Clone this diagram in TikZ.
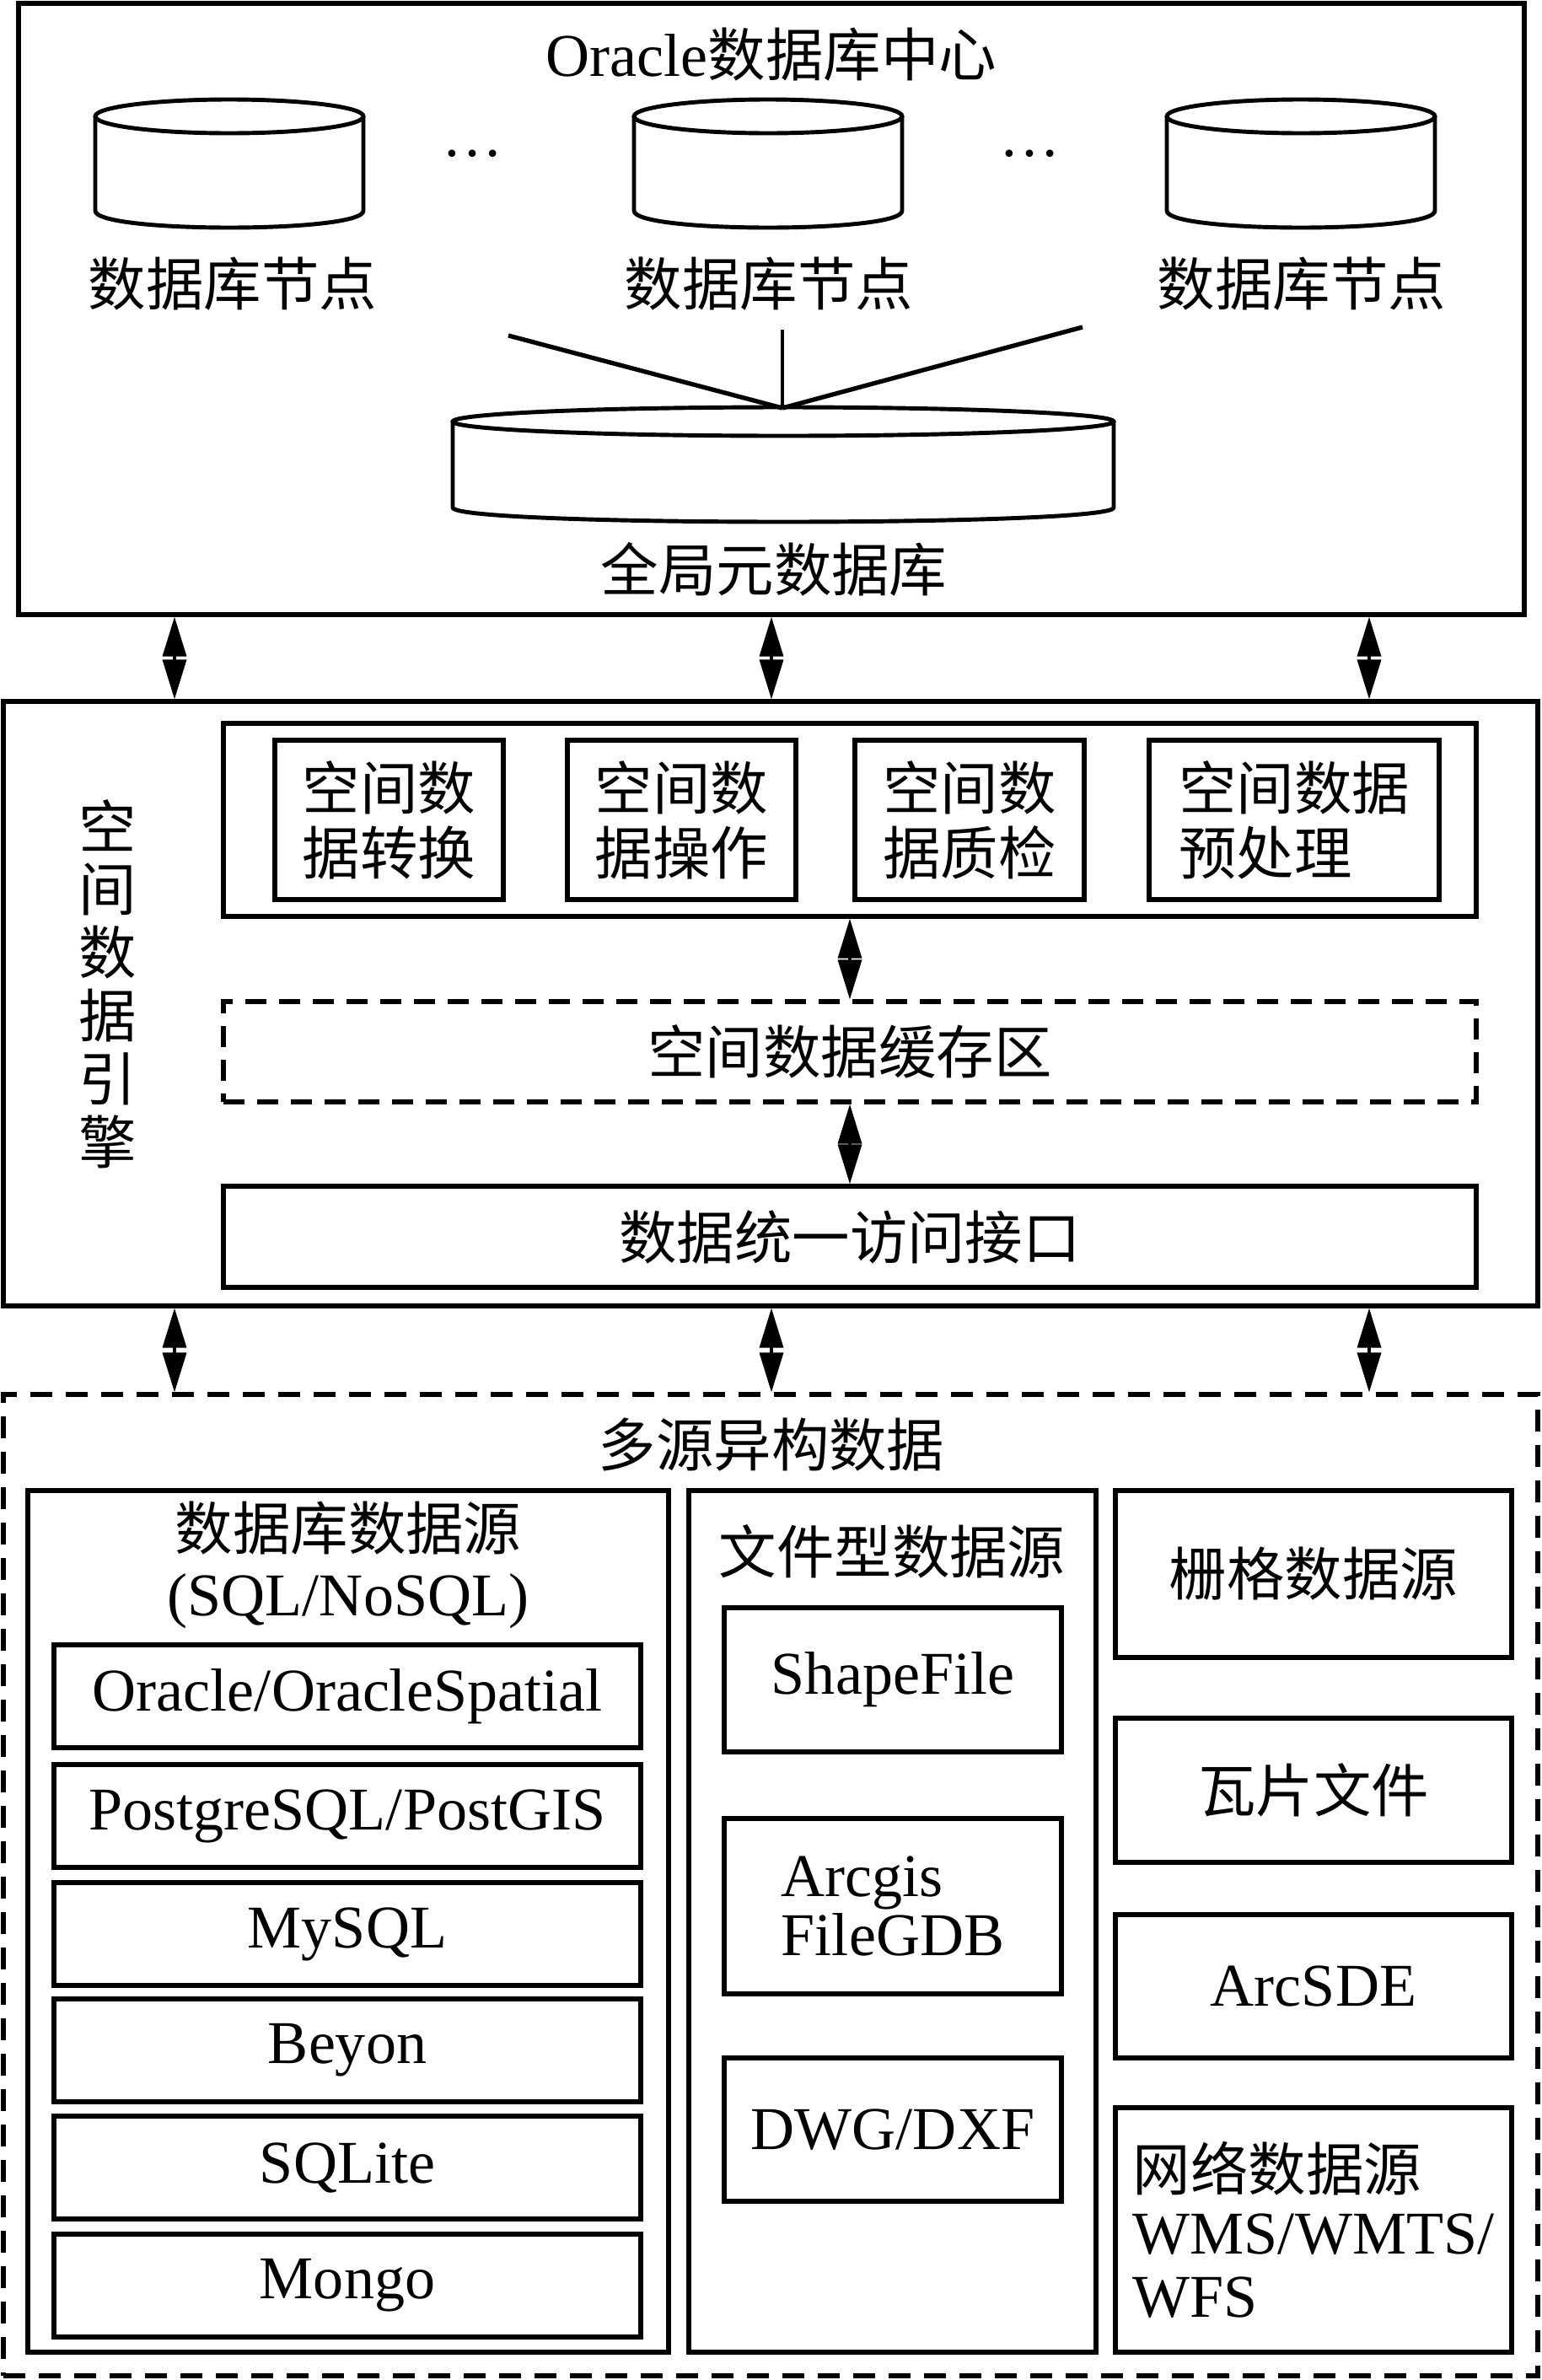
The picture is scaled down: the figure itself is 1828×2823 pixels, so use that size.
\documentclass[tikz,border=0pt]{standalone}
\usepackage{fontspec}
\setmainfont{Liberation Serif}
\newfontfamily\cjk[Scale=0.95]{Noto Sans CJK SC}
\usetikzlibrary{arrows.meta}
\newcommand{\bodysize}{\fontsize{20.5pt}{22pt}\selectfont}
% cx, top, rx, ry, body height
\newcommand{\dbdisk}[5]{%
	\draw[line width=1.4pt] (#1,#2) ellipse ({#3} and {#4});
	\draw[line width=1.4pt, line join=round]
		(#1-#3,#2) -- (#1-#3,#2+#5)
		.. controls (#1-#3,#2+#5+1.333*#4) and (#1+#3,#2+#5+1.333*#4) .. (#1+#3,#2+#5)
		-- (#1+#3,#2);
}
\begin{document}
\begin{tikzpicture}
			[
				x                       = 0.1mm,
				y                       = -0.1mm,
				font                    = \bodysize,
				box/.style              = {draw, line width=1.5pt, inner sep=0pt, align=center},
				dbox/.style             = {box, dash pattern=on 2.5mm off 1.5mm},
				zh/.style               = {font=\bodysize\cjk},
				biarrow/.style          = {{Triangle[length=4.7mm,width=2.8mm]}-{Triangle[length=4.7mm,width=2.8mm]}, line width=1pt}
			]
			\useasboundingbox (0,0) rectangle (1828,2823);
			\tikzstyle{spoke}=[line width=1.5pt]
			\node [box, minimum width=178.6mm, minimum height=72.5mm] (oraclebox) at (915,366.5) {};
			\node (oracletitle) at (915,65) {Oracle{\cjk 数据库中心}};
			\dbdisk{272}{138}{159}{20}{112}
			\dbdisk{911}{138}{159}{20}{112}
			\dbdisk{1543}{138}{159}{20}{112}
			\node [zh] (dbnode1) at (276,337) {数据库节点};
			\node [zh] (dbnode2) at (912,337) {数据库节点};
			\node [zh] (dbnode3) at (1544,337) {数据库节点};
			\node (dots1) at (561,182) {\dots};
			\node (dots2) at (1222,182) {\dots};
			\dbdisk{929}{500}{392}{17}{102}
			\node [zh] (globaldb) at (918,675) {全局元数据库};
			\coordinate (gtop) at (928,484);
			\coordinate (spoke1) at (603,398);
			\coordinate (spoke2) at (928,391);
			\coordinate (spoke3) at (1284,388);
			\draw [spoke] (spoke1) -- (gtop);
			\draw [line width=0.9pt] (spoke2) -- (gtop);
			\draw [spoke] (spoke3) -- (gtop);
			\node [box, minimum width=182mm, minimum height=71.7mm] (engine) at (914,1190.5) {};
			\node [font=\fontsize{20.5pt}{21.3pt}\selectfont\cjk, align=center] (enginetitle) at (128,1167) {空\\间\\数\\据\\引\\擎};
			\node [box, minimum width=148.6mm, minimum height=22.9mm] (ops) at (1008,972.5) {};
			\node [box, zh, minimum width=27.1mm, minimum height=18.9mm] (convert) at (461.5,972.5) {空间数\\据转换};
			\node [box, zh, minimum width=27.1mm, minimum height=18.9mm] (operate) at (808.5,972.5) {空间数\\据操作};
			\node [box, zh, minimum width=27.2mm, minimum height=18.9mm] (check) at (1150,972.5) {空间数\\据质检};
			\node [box, zh, align=left, minimum width=34.4mm, minimum height=18.9mm] (prep) at (1535,972.5) {空间数据\\预处理};
			\node [dbox, zh, minimum width=148.6mm, minimum height=11.9mm] (cache) at (1008,1247.5) {空间数据缓存区};
			\node [box, zh, minimum width=148.6mm, minimum height=12mm] (iface) at (1008,1467) {数据统一访问接口};
			\node [box, dash pattern=on 2.6mm off 1.6mm, minimum width=182mm, minimum height=116.4mm] (sources) at (914,2236) {};
			\node [zh] (sourcestitle) at (915,1713) {多源异构数据};
			\node [box, minimum width=76mm, minimum height=102.2mm] (dbsrc) at (413,2279) {};
			\node [align=center, font=\fontsize{20.5pt}{22.2pt}\selectfont] (dbsrctitle) at (413,1856) {{\cjk 数据库数据源}\\(SQL/NoSQL)};
			\node [box, minimum width=69.6mm, minimum height=12.2mm] (oracle) at (412,2012) {Oracle/OracleSpatial};
			\node [box, minimum width=69.6mm, minimum height=12.2mm] (postgre) at (412,2154) {PostgreSQL/PostGIS};
			\node [box, minimum width=69.6mm, minimum height=12.2mm] (mysql) at (412,2294) {MySQL};
			\node [box, minimum width=69.6mm, minimum height=12.2mm] (beyon) at (412,2432) {Beyon};
			\node [box, minimum width=69.6mm, minimum height=12.2mm] (sqlite) at (412,2571) {SQLite};
			\node [box, minimum width=69.6mm, minimum height=12.2mm] (mongo) at (412,2711) {Mongo};
			\node [box, minimum width=48.3mm, minimum height=102.2mm] (filesrc) at (1058.5,2279) {};
			\node [zh] (filesrctitle) at (1058,1840) {文件型数据源};
			\node [box, minimum width=40mm, minimum height=17.1mm] (shp) at (1059,1992.5) {ShapeFile};
			\node [box, align=left, minimum width=40mm, minimum height=20.8mm, font=\fontsize{20.5pt}{20pt}\selectfont] (filegdb) at (1059,2261) {Arcgis\\FileGDB};
			\node [box, minimum width=40mm, minimum height=17mm] (dwg) at (1059,2526) {DWG/DXF};
			\node [box, zh, minimum width=47mm, minimum height=19.8mm] (raster) at (1558,1867) {栅格数据源};
			\node [box, zh, minimum width=47mm, minimum height=17.1mm] (tile) at (1558,2123.5) {瓦片文件};
			\node [box, minimum width=47mm, minimum height=17mm] (sde) at (1558,2356) {ArcSDE};
			\node [box, align=left, minimum width=47mm, minimum height=29mm, font=\fontsize{20.5pt}{21.3pt}\selectfont] (web) at (1558,2645) {{\cjk 网络数据源}\\WMS/WMTS/\\WFS};
			\coordinate (col1) at (207,0);
			\coordinate (col2) at (915,0);
			\coordinate (col3) at (1624,0);
			\draw [biarrow] (oraclebox.south -| col1) -- (engine.north -| col1);
			\draw [biarrow] (oraclebox.south -| col2) -- (engine.north -| col2);
			\draw [biarrow] (oraclebox.south -| col3) -- (engine.north -| col3);
			\draw [biarrow] (ops.south) -- (cache.north);
			\draw [biarrow] (cache.south) -- (iface.north);
			\draw [biarrow] (engine.south -| col1) -- (sources.north -| col1);
			\draw [biarrow] (engine.south -| col2) -- (sources.north -| col2);
			\draw [biarrow] (engine.south -| col3) -- (sources.north -| col3);
		\end{tikzpicture}
\end{document}
